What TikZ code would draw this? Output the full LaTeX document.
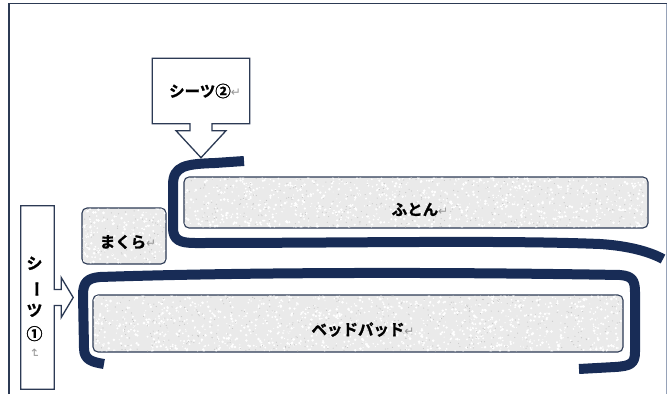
\documentclass[tikz,border=0pt]{standalone}
\usepackage{fontspec}
\usepackage{graphicx}
\usepackage{xcolor}
\setmainfont{Noto Sans CJK JP}[BoldFont={Noto Sans CJK JP Bold},BoldFeatures={FakeBold=1.3}]
\newfontfamily\markfont{DejaVu Sans}
\definecolor{sheetNavy}{RGB}{24,44,86}
\definecolor{edgeSlate}{RGB}{44,58,84}
\definecolor{padGray}{RGB}{234,234,234}
\definecolor{speckGray}{RGB}{200,200,200}
\definecolor{markGray}{RGB}{150,150,150}
\definecolor{frameLight}{RGB}{150,162,184}
\newcommand{\enterMark}[1][0]{{\markfont\fontsize{12}{12}\selectfont\mdseries\color{markGray}\rotatebox[origin=c]{#1}{↵}}}

\begin{document}
\begin{tikzpicture}[x=1pt,y=-1pt,
	pad/.style={draw=edgeSlate, line width=1.1pt, fill=padGray, rounded corners=5pt},
	word/.style={font=\fontsize{15.5}{23}\selectfont\bfseries, inner sep=0pt},
	callout/.style={draw=edgeSlate, line width=1.3pt, line join=miter},
	sheet/.style={draw=sheetNavy, line width=10pt, line cap=butt, line join=round}]
			\useasboundingbox (0,0) rectangle (667,394);
			\pgfmathsetseed{42}
			% Frame
			\draw[edgeSlate, line width=1.4pt] (9,394) -- (9,3.5) -- (667,3.5);
			\draw[frameLight, line width=1pt] (666,3.5) -- (666,394);

			% Bedding
			\node[pad, minimum width=464, minimum height=51] (futon) at (416,202.5) {};
			\node[pad, minimum width=84, minimum height=56] (makura) at (124,236) {};
			\node[pad, minimum width=530, minimum height=57] (pad) at (358,323.5) {};

			% Granite texture
			\foreach \b/\w/\h in {futon/464/51, makura/84/56, pad/530/57}{
				\begin{scope}
					\clip[rounded corners=4pt] ([shift={(1.2,1.2)}]\b.north west) rectangle ([shift={(-1.2,-1.2)}]\b.south east);
					\pgfmathtruncatemacro{\n}{\w/25*\h}
					\foreach \i in {1,...,\n}
					\fill[white, shift={(\b.north west)}] (rnd*\w, rnd*\h) circle (0.5+rnd);
					\pgfmathtruncatemacro{\m}{\w/70*\h}
					\foreach \i in {1,...,\m}
					\fill[speckGray, shift={(\b.north west)}] (rnd*\w, rnd*\h) circle (0.6);
				\end{scope}
			}
			\node[word] (futonText) at ([xshift=4pt,yshift=-7pt]futon.center) {ふとん\enterMark};
			\node[word] (makuraText) at ([xshift=4pt,yshift=-6pt]makura.center) {まくら\enterMark};
			\node[word] (padText) at ([xshift=5pt,yshift=-6pt]pad.center) {ベッドパッド\enterMark};

			% Sheet 2 callout (arrow down)
			\node[minimum width=97, minimum height=65, inner sep=0pt] (sheetTwo) at (201,91) {};
			\node[word] (sheetTwoText) at ([xshift=4pt]sheetTwo.center) {シーツ②\enterMark};
			\draw[callout] (sheetTwo.south west) -- (sheetTwo.north west) -- (sheetTwo.north east)
				-- (sheetTwo.south east) -- ([xshift=11pt]sheetTwo.south) -- ++(0,7) -- ++(14,0)
				-- ([yshift=-34pt]sheetTwo.south) -- ++(-25,-27) -- ++(14,0) -- ++(0,-7) -- cycle;

			% Sheet 1 callout (arrow right)
			\node[minimum width=33, minimum height=183, inner sep=0pt] (sheetOne) at (37.5,297.5) {};
			\node[word, align=center, font=\fontsize{16}{23.5}\selectfont\bfseries] (sheetOneText) at ([xshift=-3pt,yshift=-10pt]sheetOne.center)
				{シ\\ \rotatebox[origin=c]{-90}{ー}\\ ツ\\ ①\\[-6pt] \enterMark[-90]};
			\draw[callout] (sheetOne.north east) -- (sheetOne.north west) -- (sheetOne.south west)
				-- (sheetOne.south east) -- ([yshift=-8pt]sheetOne.east) -- ++(7,0) -- ++(0,12)
				-- ([xshift=19pt]sheetOne.east) -- ++(-12,-20) -- ++(0,12) -- ++(-7,0) -- cycle;

			% Sheet 2 wraps the futon
			\draw[sheet] (244,161) -- (215,163) .. controls (185,164) and (173,166) .. (173,185)
				-- (173,228) .. controls (173,240) and (180,243) .. (195,243)
				.. controls (350,243) and (500,240) .. (600,244)
				.. controls (630,246) and (650,252) .. (663,259);

			% Sheet 1 wraps the bed pad
			\draw[sheet] (104,364) .. controls (92,362) and (84,360) .. (84,348) -- (83,295)
				.. controls (83,282) and (88,278) .. (100,277)
				.. controls (250,272) and (450,272) .. (620,275)
				.. controls (632,276) and (635,280) .. (635,292) -- (635,352)
				.. controls (635,364) and (630,366) .. (615,367) -- (579,369);
		\end{tikzpicture}
\end{document}
